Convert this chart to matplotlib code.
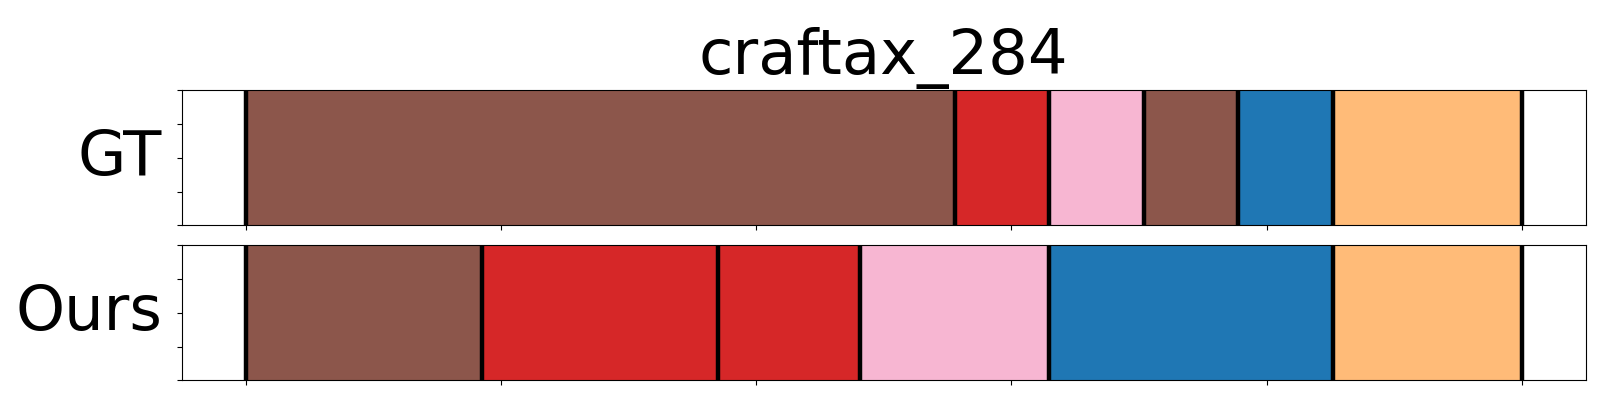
import matplotlib
matplotlib.use("Agg")
import matplotlib.pyplot as plt
import numpy as np

title = "craftax_284"
row_labels = ["GT", "Ours"]
# segment lengths (frames) and tab20 colour indices per row
gt_lengths = [15, 2, 2, 2, 2, 4]
gt_classes = [10, 6, 13, 10, 0, 3]
ours_lengths = [5, 5, 3, 4, 6, 4]
ours_classes = [10, 6, 6, 13, 0, 3]

cmap = plt.get_cmap("tab20")

fig = plt.figure(figsize=(16, 4), dpi=100)
left, right = 0.1136, 0.991
ax_gt = fig.add_axes([left, 0.437, right - left, 0.774 - 0.437])
ax_ours = fig.add_axes([left, 0.049, right - left, 0.387 - 0.049])

rows = [(ax_gt, gt_lengths, gt_classes, row_labels[0]),
        (ax_ours, ours_lengths, ours_classes, row_labels[1])]

for ax, lengths, classes, label in rows:
    total = float(sum(lengths))
    starts = np.concatenate([[0], np.cumsum(lengths)[:-1]]) / total
    widths = np.array(lengths) / total
    ax.barh(0.5, widths, left=starts, height=1.0,
            color=[cmap(c) for c in classes], edgecolor="none")
    for b in list(starts) + [1.0]:
        ax.axvline(b, color="black", linewidth=3.2)
    ax.set_xlim(-0.05, 1.05)
    ax.set_ylim(0, 1)
    ax.set_xticks(np.linspace(0, 1, 6))
    ax.set_yticks(np.linspace(0, 1, 5))
    ax.set_xticklabels([])
    ax.set_yticklabels([])
    ax.set_ylabel(label, rotation=0, fontsize=45, ha="right", va="center")
    ax.yaxis.set_label_coords(-0.0140, 0.5)

ax_gt.set_title(title, fontsize=45, pad=12)

fig.savefig("out.png", dpi=100)
